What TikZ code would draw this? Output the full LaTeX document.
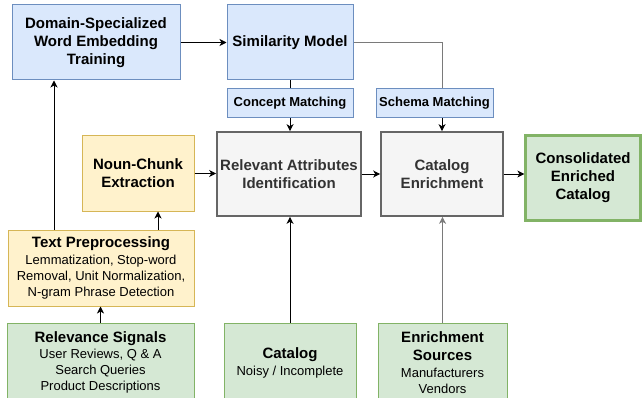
\documentclass[tikz,border=0pt]{standalone}
\usepackage{fontspec}
\setmainfont{Liberation Sans}
\usetikzlibrary{arrows.meta}

\definecolor{bluefill}{HTML}{DAE8FC}
\definecolor{bluedraw}{HTML}{6C8EBF}
\definecolor{yellowfill}{HTML}{FFF2CC}
\definecolor{yellowdraw}{HTML}{D6B656}
\definecolor{greenfill}{HTML}{D5E8D4}
\definecolor{greendraw}{HTML}{82B366}
\definecolor{grayfill}{HTML}{F5F5F5}
\definecolor{graydraw}{HTML}{666666}
\definecolor{graytext}{HTML}{333333}
\definecolor{linegray}{HTML}{7A7A7A}

\newcommand{\descfont}{\fontsize{13}{15}\selectfont\mdseries}

\begin{document}
\begin{tikzpicture}[x=1pt,y=-1pt,
	every node/.style={align=center,inner sep=0pt,font=\fontsize{15}{18}\selectfont\bfseries},
	sz/.style 2 args={minimum width=#1pt,minimum height=#2pt},
	bluebox/.style={draw=bluedraw,fill=bluefill,line width=1pt},
	yellowbox/.style={draw=yellowdraw,fill=yellowfill,line width=1pt},
	greenbox/.style={draw=greendraw,fill=greenfill,line width=1pt},
	graybox/.style={draw=graydraw,fill=grayfill,line width=1.6pt,text=graytext},
	tag/.style={font=\fontsize{13}{15}\selectfont\bfseries},
	arr/.style={-{Stealth[length=7pt,width=7pt,inset=2pt]},line width=0.9pt},
	link/.style={line width=0.9pt}]
	\useasboundingbox (0,0) rectangle (642,398);

	\node[bluebox,sz={168}{75}] (emb) at (96,42.5) {Domain-Specialized\\Word Embedding\\Training};
	\node[bluebox,sz={126}{75}] (sim) at (290,42.5) {Similarity Model};
	\node[bluebox,tag,sz={126}{29}] (concept) at (290,103.5) {Concept Matching};
	\node[bluebox,tag,sz={117}{29}] (schema) at (434.5,103.5) {Schema Matching};

	\node[yellowbox,sz={112}{75}] (noun) at (138,173.5) {Noun-Chunk\\Extraction};
	\node[graybox,sz={144}{84}] (rel) at (289,174) {Relevant Attributes\\Identification};
	\node[graybox,sz={122}{84}] (enr) at (442,174) {Catalog\\Enrichment};
	\node[greenbox,line width=2.2pt,sz={115}{85}] (cons) at (583,178) {Consolidated\\Enriched\\Catalog};

	\node[yellowbox,sz={186}{76}] (prep) at (101,268) {Text Preprocessing\\[-1.5pt]
		\descfont Lemmatization, Stop-word\\[-2pt]
		\descfont Removal, Unit Normalization,\\[-2pt]
		\descfont N-gram Phrase Detection};

	\node[greenbox,sz={187}{79}] (sig) at (100.5,362.5) {Relevance Signals\\[-2pt]
		\descfont User Reviews, Q \& A\\[-2pt]
		\descfont Search Queries\\[-2pt]
		\descfont Product Descriptions};
	\node[greenbox,sz={132}{79}] (cat) at (290,362.5) {Catalog\\[-1pt]\descfont Noisy / Incomplete};
	\node[greenbox,sz={129}{79}] (src) at (442.5,362.5) {Enrichment\\Sources\\[-1.5pt]
		\descfont Manufacturers\\[-2pt]
		\descfont Vendors};

	\draw[arr] (emb) -- (sim);
	\draw[link] (sim) -- (concept);
	\draw[arr] (concept.south) -- (concept.south |- rel.north);
	\draw[link,linegray] (sim.east) -| (schema.north -| enr.north);
	\draw[arr] (schema.south -| enr.north) -- (enr.north);
	\draw[arr] (noun.east) -- (noun.east -| rel.west);
	\draw[arr] (rel) -- (enr);
	\draw[arr] (enr.east) -- (enr.east -| cons.west);
	\draw[arr] ([xshift=-47pt]prep.north) -- ([xshift=-47pt]prep.north |- emb.south);
	\draw[arr] ([xshift=57pt]prep.north) -- ([xshift=57pt]prep.north |- noun.south);
	\draw[arr] (sig.north) -- (sig.north |- prep.south);
	\draw[arr] (cat.north) -- (cat.north |- rel.south);
	\draw[arr,linegray] (src.north) -- (src.north |- enr.south);
\end{tikzpicture}
\end{document}
